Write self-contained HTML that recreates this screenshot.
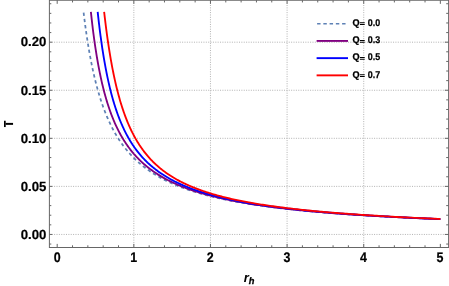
<!DOCTYPE html><html><head><meta charset="utf-8"><style>html,body{margin:0;padding:0;background:#fff}svg{display:block;will-change:transform}text{text-rendering:geometricPrecision;font-family:"Liberation Sans",sans-serif;font-weight:bold;fill:#000}</style></head><body>
<svg width="449" height="286" viewBox="0 0 449 286">
<rect width="449" height="286" fill="#fff"/>
<g stroke="#aaa" stroke-width="0.9" stroke-dasharray="1 1.37" fill="none"><line x1="133.83" y1="0.25" x2="133.83" y2="247.50"/><line x1="210.46" y1="0.25" x2="210.46" y2="247.50"/><line x1="287.09" y1="0.25" x2="287.09" y2="247.50"/><line x1="363.72" y1="0.25" x2="363.72" y2="247.50"/><line x1="49.40" y1="234.45" x2="448.60" y2="234.45"/><line x1="49.40" y1="186.38" x2="448.60" y2="186.38"/><line x1="49.40" y1="138.32" x2="448.60" y2="138.32"/><line x1="49.40" y1="90.25" x2="448.60" y2="90.25"/><line x1="49.40" y1="42.19" x2="448.60" y2="42.19"/></g>
<g fill="none" stroke-linejoin="round">
<path d="M83.53 11.85 L83.77 13.83 L84.01 15.79 L84.25 17.73 L84.49 19.66 L84.74 21.57 L84.98 23.46 L85.23 25.33 L85.48 27.19 L85.74 29.03 L85.99 30.86 L86.25 32.67 L86.51 34.46 L86.77 36.24 L87.04 38.00 L87.31 39.74 L87.58 41.47 L87.85 43.19 L88.12 44.89 L88.40 46.57 L88.68 48.24 L88.96 49.89 L89.25 51.53 L89.54 53.16 L89.82 54.77 L90.12 56.37 L90.41 57.95 L90.71 59.52 L91.01 61.07 L91.31 62.61 L91.62 64.14 L91.93 65.65 L92.24 67.15 L92.55 68.64 L92.87 70.11 L93.19 71.57 L93.51 73.02 L93.84 74.45 L94.17 75.88 L94.50 77.29 L94.83 78.68 L95.17 80.07 L95.51 81.44 L95.85 82.80 L96.20 84.14 L96.55 85.48 L96.90 86.80 L97.26 88.12 L97.62 89.42 L97.98 90.70 L98.35 91.98 L98.72 93.25 L99.09 94.50 L99.46 95.75 L99.84 96.98 L100.22 98.20 L100.61 99.41 L101.00 100.61 L101.39 101.80 L101.79 102.98 L102.19 104.15 L102.59 105.30 L103.00 106.45 L103.41 107.59 L103.82 108.72 L104.24 109.83 L104.66 110.94 L105.09 112.04 L105.52 113.13 L105.95 114.20 L106.39 115.27 L106.83 116.33 L107.27 117.38 L107.72 118.42 L108.18 119.45 L108.63 120.47 L109.09 121.49 L109.56 122.49 L110.03 123.49 L110.50 124.47 L110.98 125.45 L111.46 126.42 L111.95 127.38 L112.44 128.33 L112.93 129.27 L113.43 130.21 L113.94 131.13 L114.45 132.05 L114.96 132.96 L115.48 133.86 L116.00 134.76 L116.53 135.64 L117.06 136.52 L117.60 137.39 L118.14 138.25 L118.68 139.11 L119.23 139.95 L119.79 140.79 L120.35 141.63 L120.92 142.45 L121.49 143.27 L122.07 144.08 L122.65 144.88 L123.23 145.68 L123.83 146.47 L124.42 147.25 L125.03 148.02 L125.63 148.79 L126.25 149.55 L126.87 150.31 L127.49 151.05 L128.12 151.79 L128.76 152.53 L129.40 153.26 L130.05 153.98 L130.70 154.69 L131.36 155.40 L132.02 156.10 L132.69 156.80 L133.37 157.49 L134.05 158.17 L134.74 158.85 L135.44 159.52 L136.14 160.19 L136.85 160.85 L137.56 161.50 L138.28 162.15 L139.01 162.79 L139.74 163.43 L140.48 164.06 L141.23 164.69 L141.98 165.31 L142.74 165.92 L143.51 166.53 L144.28 167.13 L145.06 167.73 L145.85 168.32 L146.64 168.91 L147.45 169.49 L148.26 170.07 L149.07 170.64 L149.90 171.21 L150.73 171.77 L151.57 172.33 L152.41 172.88 L153.26 173.43 L154.13 173.97 L155.00 174.51 L155.87 175.04 L156.76 175.57 L157.65 176.09 L158.55 176.61 L159.46 177.12 L160.37 177.63 L161.30 178.14 L162.23 178.64 L163.17 179.13 L164.12 179.63 L165.08 180.11 L166.05 180.60 L167.03 181.07 L168.01 181.55 L169.00 182.02 L170.01 182.48 L171.02 182.95 L172.04 183.40 L173.07 183.86 L174.11 184.31 L175.16 184.75 L176.21 185.19 L177.28 185.63 L178.36 186.07 L179.44 186.50 L180.54 186.92 L181.64 187.34 L182.76 187.76 L183.89 188.18 L185.02 188.59 L186.17 189.00 L187.32 189.40 L188.49 189.80 L189.67 190.20 L190.85 190.59 L192.05 190.98 L193.26 191.37 L194.48 191.75 L195.71 192.13 L196.95 192.50 L198.21 192.88 L199.47 193.25 L200.75 193.61 L202.03 193.98 L203.33 194.34 L204.64 194.69 L205.96 195.04 L207.30 195.40 L208.64 195.74 L210.00 196.09 L211.37 196.43 L212.75 196.76 L214.15 197.10 L215.55 197.43 L216.97 197.76 L218.41 198.09 L219.85 198.41 L221.31 198.73 L222.78 199.05 L224.27 199.36 L225.76 199.67 L227.27 199.98 L228.80 200.29 L230.34 200.59 L231.89 200.89 L233.46 201.19 L235.04 201.49 L236.63 201.78 L238.24 202.07 L239.86 202.36 L241.50 202.64 L243.15 202.93 L244.82 203.21 L246.50 203.48 L248.20 203.76 L249.91 204.03 L251.64 204.30 L253.38 204.57 L255.14 204.83 L256.91 205.10 L258.70 205.36 L260.51 205.62 L262.33 205.87 L264.17 206.13 L266.03 206.38 L267.90 206.63 L269.79 206.88 L271.70 207.12 L273.62 207.36 L275.56 207.60 L277.52 207.84 L279.49 208.08 L281.48 208.31 L283.50 208.55 L285.52 208.78 L287.57 209.00 L289.64 209.23 L291.72 209.45 L293.82 209.68 L295.94 209.90 L298.08 210.11 L300.24 210.33 L302.42 210.55 L304.62 210.76 L306.84 210.97 L309.08 211.18 L311.34 211.38 L313.61 211.59 L315.91 211.79 L318.23 211.99 L320.57 212.19 L322.93 212.39 L325.32 212.59 L327.72 212.78 L330.14 212.97 L332.59 213.16 L335.06 213.35 L337.55 213.54 L340.07 213.73 L342.60 213.91 L345.16 214.09 L347.74 214.27 L350.35 214.45 L352.97 214.63 L355.63 214.81 L358.30 214.98 L361.00 215.15 L363.72 215.33 L366.47 215.50 L369.25 215.66 L372.04 215.83 L374.87 216.00 L377.71 216.16 L380.59 216.32 L383.49 216.48 L386.41 216.64 L389.36 216.80 L392.34 216.96 L395.34 217.11 L398.38 217.27 L401.43 217.42 L404.52 217.57 L407.63 217.72 L410.78 217.87 L413.95 218.02 L417.14 218.16 L420.37 218.31 L423.63 218.45 L426.91 218.59 L430.23 218.74 L433.57 218.87 L436.95 219.01 L440.35 219.15" stroke="#5E81B5" stroke-width="1.75" stroke-dasharray="3.3 2.95" stroke-dashoffset="-0.75"/>
<path d="M90.89 11.85 L91.16 14.42 L91.44 16.95 L91.72 19.45 L92.00 21.90 L92.28 24.32 L92.56 26.70 L92.85 29.05 L93.14 31.36 L93.43 33.64 L93.73 35.88 L94.03 38.09 L94.33 40.27 L94.63 42.42 L94.93 44.53 L95.24 46.62 L95.55 48.67 L95.86 50.69 L96.18 52.69 L96.49 54.66 L96.81 56.60 L97.14 58.51 L97.46 60.39 L97.79 62.25 L98.12 64.09 L98.45 65.89 L98.79 67.68 L99.13 69.43 L99.47 71.17 L99.81 72.88 L100.16 74.56 L100.51 76.23 L100.86 77.87 L101.22 79.49 L101.57 81.09 L101.93 82.67 L102.30 84.22 L102.67 85.76 L103.04 87.27 L103.41 88.77 L103.78 90.24 L104.16 91.70 L104.55 93.14 L104.93 94.56 L105.32 95.96 L105.71 97.34 L106.11 98.71 L106.50 100.06 L106.90 101.39 L107.31 102.71 L107.72 104.00 L108.13 105.29 L108.54 106.55 L108.96 107.81 L109.38 109.04 L109.81 110.26 L110.23 111.47 L110.67 112.66 L111.10 113.84 L111.54 115.00 L111.98 116.15 L112.43 117.28 L112.88 118.40 L113.33 119.51 L113.79 120.61 L114.25 121.69 L114.71 122.76 L115.18 123.82 L115.65 124.86 L116.13 125.89 L116.61 126.92 L117.09 127.92 L117.58 128.92 L118.07 129.91 L118.56 130.88 L119.06 131.85 L119.57 132.80 L120.07 133.74 L120.59 134.68 L121.10 135.60 L121.62 136.51 L122.15 137.41 L122.67 138.30 L123.21 139.18 L123.74 140.06 L124.29 140.92 L124.83 141.77 L125.38 142.61 L125.94 143.45 L126.50 144.27 L127.06 145.09 L127.63 145.90 L128.20 146.70 L128.78 147.49 L129.36 148.27 L129.95 149.05 L130.54 149.81 L131.14 150.57 L131.74 151.32 L132.35 152.06 L132.96 152.80 L133.57 153.53 L134.20 154.25 L134.82 154.96 L135.45 155.66 L136.09 156.36 L136.73 157.05 L137.38 157.74 L138.03 158.41 L138.69 159.08 L139.35 159.75 L140.02 160.40 L140.69 161.05 L141.37 161.69 L142.06 162.33 L142.75 162.96 L143.45 163.59 L144.15 164.20 L144.86 164.82 L145.57 165.42 L146.29 166.02 L147.01 166.62 L147.74 167.21 L148.48 167.79 L149.22 168.37 L149.97 168.94 L150.73 169.50 L151.49 170.06 L152.26 170.62 L153.03 171.17 L153.81 171.71 L154.59 172.25 L155.39 172.79 L156.19 173.31 L156.99 173.84 L157.80 174.36 L158.62 174.87 L159.45 175.38 L160.28 175.89 L161.12 176.39 L161.96 176.88 L162.82 177.37 L163.68 177.86 L164.54 178.34 L165.42 178.81 L166.30 179.29 L167.18 179.76 L168.08 180.22 L168.98 180.68 L169.89 181.13 L170.81 181.58 L171.73 182.03 L172.66 182.47 L173.60 182.91 L174.55 183.35 L175.51 183.78 L176.47 184.21 L177.44 184.63 L178.42 185.05 L179.40 185.46 L180.40 185.88 L181.40 186.28 L182.41 186.69 L183.43 187.09 L184.46 187.48 L185.49 187.88 L186.54 188.27 L187.59 188.65 L188.65 189.04 L189.72 189.42 L190.80 189.79 L191.89 190.17 L192.98 190.54 L194.09 190.90 L195.20 191.27 L196.32 191.63 L197.46 191.98 L198.60 192.34 L199.75 192.69 L200.91 193.03 L202.08 193.38 L203.26 193.72 L204.45 194.06 L205.64 194.39 L206.85 194.72 L208.07 195.05 L209.30 195.38 L210.53 195.70 L211.78 196.03 L213.04 196.34 L214.31 196.66 L215.59 196.97 L216.88 197.28 L218.17 197.59 L219.48 197.89 L220.81 198.20 L222.14 198.50 L223.48 198.79 L224.83 199.09 L226.20 199.38 L227.57 199.67 L228.96 199.95 L230.36 200.24 L231.76 200.52 L233.18 200.80 L234.62 201.08 L236.06 201.35 L237.52 201.62 L238.98 201.89 L240.46 202.16 L241.95 202.43 L243.46 202.69 L244.97 202.95 L246.50 203.21 L248.04 203.47 L249.59 203.72 L251.16 203.97 L252.74 204.22 L254.33 204.47 L255.93 204.72 L257.55 204.96 L259.18 205.20 L260.82 205.44 L262.48 205.68 L264.15 205.91 L265.84 206.15 L267.53 206.38 L269.25 206.61 L270.97 206.84 L272.71 207.06 L274.46 207.29 L276.23 207.51 L278.01 207.73 L279.81 207.95 L281.62 208.17 L283.45 208.38 L285.29 208.59 L287.15 208.80 L289.02 209.01 L290.90 209.22 L292.81 209.43 L294.72 209.63 L296.66 209.83 L298.60 210.03 L300.57 210.23 L302.55 210.43 L304.55 210.63 L306.56 210.82 L308.59 211.01 L310.63 211.21 L312.70 211.39 L314.77 211.58 L316.87 211.77 L318.98 211.95 L321.11 212.14 L323.26 212.32 L325.43 212.50 L327.61 212.68 L329.81 212.85 L332.03 213.03 L334.26 213.21 L336.52 213.38 L338.79 213.55 L341.08 213.72 L343.39 213.89 L345.72 214.06 L348.07 214.22 L350.44 214.39 L352.82 214.55 L355.23 214.71 L357.65 214.87 L360.10 215.03 L362.56 215.19 L365.05 215.34 L367.55 215.50 L370.08 215.65 L372.62 215.81 L375.19 215.96 L377.78 216.11 L380.39 216.26 L383.02 216.40 L385.67 216.55 L388.34 216.70 L391.04 216.84 L393.75 216.98 L396.49 217.13 L399.25 217.27 L402.04 217.41 L404.84 217.54 L407.67 217.68 L410.52 217.82 L413.40 217.95 L416.30 218.09 L419.22 218.22 L422.16 218.35 L425.13 218.48 L428.13 218.61 L431.15 218.74 L434.19 218.87 L437.26 218.99 L440.35 219.12" stroke="#800080" stroke-width="1.85"/>
<path d="M97.68 11.85 L97.98 14.66 L98.29 17.42 L98.60 20.14 L98.91 22.81 L99.22 25.44 L99.54 28.03 L99.86 30.57 L100.18 33.08 L100.50 35.54 L100.83 37.96 L101.16 40.34 L101.49 42.69 L101.82 45.00 L102.15 47.27 L102.49 49.50 L102.83 51.70 L103.18 53.87 L103.52 56.00 L103.87 58.10 L104.22 60.16 L104.57 62.20 L104.93 64.20 L105.29 66.17 L105.65 68.11 L106.02 70.02 L106.38 71.90 L106.75 73.76 L107.13 75.58 L107.50 77.38 L107.88 79.15 L108.26 80.90 L108.64 82.61 L109.03 84.31 L109.42 85.97 L109.81 87.62 L110.21 89.24 L110.61 90.83 L111.01 92.40 L111.41 93.95 L111.82 95.48 L112.23 96.98 L112.65 98.47 L113.06 99.93 L113.48 101.37 L113.91 102.79 L114.33 104.19 L114.76 105.57 L115.20 106.93 L115.63 108.27 L116.07 109.60 L116.51 110.90 L116.96 112.19 L117.41 113.46 L117.86 114.71 L118.32 115.95 L118.78 117.16 L119.24 118.37 L119.71 119.55 L120.18 120.72 L120.65 121.87 L121.13 123.01 L121.61 124.14 L122.09 125.24 L122.58 126.34 L123.07 127.42 L123.57 128.48 L124.07 129.53 L124.57 130.57 L125.08 131.60 L125.59 132.61 L126.10 133.61 L126.62 134.59 L127.14 135.56 L127.67 136.52 L128.20 137.47 L128.73 138.41 L129.27 139.33 L129.81 140.25 L130.36 141.15 L130.91 142.04 L131.46 142.92 L132.02 143.79 L132.59 144.65 L133.15 145.50 L133.72 146.33 L134.30 147.16 L134.88 147.98 L135.46 148.79 L136.05 149.59 L136.64 150.37 L137.24 151.15 L137.84 151.92 L138.45 152.69 L139.06 153.44 L139.68 154.18 L140.30 154.92 L140.92 155.64 L141.55 156.36 L142.19 157.07 L142.83 157.77 L143.47 158.47 L144.12 159.15 L144.77 159.83 L145.43 160.50 L146.09 161.16 L146.76 161.82 L147.44 162.47 L148.11 163.11 L148.80 163.74 L149.49 164.37 L150.18 164.99 L150.88 165.60 L151.58 166.21 L152.29 166.81 L153.01 167.40 L153.73 167.99 L154.46 168.57 L155.19 169.14 L155.92 169.71 L156.67 170.27 L157.41 170.83 L158.17 171.38 L158.93 171.93 L159.69 172.46 L160.46 173.00 L161.24 173.53 L162.02 174.05 L162.81 174.56 L163.61 175.08 L164.41 175.58 L165.21 176.08 L166.02 176.58 L166.84 177.07 L167.67 177.56 L168.50 178.04 L169.33 178.51 L170.18 178.99 L171.03 179.45 L171.88 179.92 L172.75 180.37 L173.61 180.83 L174.49 181.27 L175.37 181.72 L176.26 182.16 L177.16 182.59 L178.06 183.02 L178.97 183.45 L179.88 183.87 L180.81 184.29 L181.74 184.71 L182.67 185.12 L183.62 185.53 L184.57 185.93 L185.52 186.33 L186.49 186.72 L187.46 187.11 L188.44 187.50 L189.43 187.89 L190.42 188.27 L191.42 188.64 L192.43 189.02 L193.45 189.39 L194.48 189.75 L195.51 190.12 L196.55 190.48 L197.60 190.83 L198.65 191.19 L199.72 191.54 L200.79 191.88 L201.87 192.23 L202.96 192.57 L204.05 192.90 L205.16 193.24 L206.27 193.57 L207.39 193.90 L208.52 194.22 L209.66 194.54 L210.80 194.86 L211.96 195.18 L213.12 195.49 L214.29 195.80 L215.48 196.11 L216.67 196.42 L217.87 196.72 L219.07 197.02 L220.29 197.32 L221.52 197.61 L222.75 197.90 L224.00 198.19 L225.25 198.48 L226.52 198.77 L227.79 199.05 L229.07 199.33 L230.37 199.60 L231.67 199.88 L232.98 200.15 L234.30 200.42 L235.63 200.69 L236.98 200.95 L238.33 201.22 L239.69 201.48 L241.06 201.74 L242.44 201.99 L243.84 202.25 L245.24 202.50 L246.66 202.75 L248.08 203.00 L249.52 203.24 L250.96 203.49 L252.42 203.73 L253.89 203.97 L255.37 204.21 L256.86 204.44 L258.36 204.67 L259.87 204.91 L261.40 205.14 L262.93 205.36 L264.48 205.59 L266.04 205.81 L267.61 206.04 L269.19 206.26 L270.78 206.47 L272.39 206.69 L274.01 206.91 L275.64 207.12 L277.28 207.33 L278.94 207.54 L280.60 207.75 L282.28 207.95 L283.98 208.16 L285.68 208.36 L287.40 208.56 L289.13 208.76 L290.88 208.96 L292.63 209.16 L294.40 209.35 L296.19 209.54 L297.99 209.74 L299.80 209.93 L301.62 210.11 L303.46 210.30 L305.31 210.49 L307.18 210.67 L309.06 210.85 L310.95 211.03 L312.86 211.21 L314.78 211.39 L316.72 211.57 L318.67 211.74 L320.64 211.92 L322.62 212.09 L324.61 212.26 L326.63 212.43 L328.65 212.60 L330.69 212.76 L332.75 212.93 L334.82 213.09 L336.91 213.26 L339.01 213.42 L341.13 213.58 L343.27 213.74 L345.42 213.90 L347.59 214.05 L349.77 214.21 L351.97 214.36 L354.19 214.51 L356.42 214.67 L358.67 214.82 L360.94 214.97 L363.22 215.11 L365.52 215.26 L367.84 215.41 L370.18 215.55 L372.53 215.70 L374.90 215.84 L377.29 215.98 L379.70 216.12 L382.13 216.26 L384.57 216.40 L387.03 216.53 L389.51 216.67 L392.01 216.80 L394.53 216.94 L397.07 217.07 L399.62 217.20 L402.20 217.33 L404.79 217.46 L407.41 217.59 L410.04 217.72 L412.69 217.85 L415.37 217.97 L418.06 218.10 L420.77 218.22 L423.51 218.34 L426.26 218.46 L429.04 218.58 L431.83 218.70 L434.65 218.82 L437.49 218.94 L440.35 219.06" stroke="#0000FF" stroke-width="1.85"/>
<path d="M104.14 11.85 L104.47 14.75 L104.81 17.60 L105.14 20.41 L105.48 23.17 L105.82 25.88 L106.16 28.55 L106.50 31.18 L106.85 33.76 L107.20 36.30 L107.55 38.80 L107.90 41.25 L108.26 43.67 L108.62 46.05 L108.98 48.39 L109.34 50.70 L109.71 52.96 L110.08 55.19 L110.45 57.38 L110.82 59.54 L111.20 61.67 L111.58 63.76 L111.96 65.82 L112.34 67.84 L112.73 69.84 L113.12 71.80 L113.51 73.73 L113.91 75.64 L114.31 77.51 L114.71 79.35 L115.11 81.17 L115.52 82.96 L115.93 84.72 L116.34 86.45 L116.76 88.16 L117.17 89.84 L117.59 91.49 L118.02 93.12 L118.45 94.73 L118.88 96.31 L119.31 97.87 L119.75 99.40 L120.18 100.91 L120.63 102.40 L121.07 103.87 L121.52 105.32 L121.97 106.74 L122.43 108.15 L122.89 109.53 L123.35 110.89 L123.81 112.24 L124.28 113.56 L124.75 114.87 L125.22 116.15 L125.70 117.42 L126.18 118.67 L126.67 119.91 L127.16 121.12 L127.65 122.32 L128.14 123.50 L128.64 124.66 L129.14 125.81 L129.65 126.95 L130.16 128.06 L130.67 129.16 L131.18 130.25 L131.70 131.32 L132.23 132.38 L132.75 133.42 L133.28 134.45 L133.82 135.46 L134.36 136.46 L134.90 137.45 L135.44 138.42 L135.99 139.38 L136.55 140.33 L137.10 141.27 L137.67 142.19 L138.23 143.10 L138.80 144.00 L139.37 144.89 L139.95 145.77 L140.53 146.63 L141.12 147.48 L141.71 148.33 L142.30 149.16 L142.90 149.98 L143.50 150.79 L144.10 151.59 L144.71 152.38 L145.33 153.16 L145.95 153.93 L146.57 154.69 L147.20 155.45 L147.83 156.19 L148.47 156.92 L149.11 157.65 L149.75 158.36 L150.40 159.07 L151.06 159.77 L151.72 160.46 L152.38 161.14 L153.05 161.81 L153.72 162.47 L154.40 163.13 L155.08 163.78 L155.77 164.42 L156.46 165.06 L157.16 165.68 L157.86 166.30 L158.57 166.91 L159.28 167.52 L160.00 168.12 L160.72 168.71 L161.45 169.29 L162.18 169.87 L162.92 170.44 L163.66 171.01 L164.41 171.56 L165.16 172.12 L165.92 172.66 L166.68 173.20 L167.45 173.73 L168.22 174.26 L169.00 174.78 L169.79 175.30 L170.58 175.81 L171.38 176.31 L172.18 176.81 L172.98 177.31 L173.80 177.80 L174.62 178.28 L175.44 178.76 L176.27 179.23 L177.11 179.70 L177.95 180.16 L178.80 180.62 L179.65 181.07 L180.51 181.52 L181.38 181.96 L182.25 182.40 L183.13 182.84 L184.01 183.27 L184.90 183.69 L185.80 184.11 L186.70 184.53 L187.61 184.94 L188.53 185.35 L189.45 185.75 L190.38 186.15 L191.31 186.55 L192.26 186.94 L193.20 187.33 L194.16 187.71 L195.12 188.09 L196.09 188.47 L197.07 188.84 L198.05 189.21 L199.04 189.58 L200.03 189.94 L201.04 190.30 L202.05 190.65 L203.06 191.00 L204.09 191.35 L205.12 191.70 L206.16 192.04 L207.20 192.38 L208.26 192.71 L209.32 193.04 L210.39 193.37 L211.46 193.70 L212.55 194.02 L213.64 194.34 L214.74 194.65 L215.84 194.97 L216.96 195.28 L218.08 195.58 L219.21 195.89 L220.35 196.19 L221.49 196.49 L222.65 196.79 L223.81 197.08 L224.98 197.37 L226.16 197.66 L227.34 197.94 L228.54 198.23 L229.74 198.51 L230.95 198.78 L232.17 199.06 L233.40 199.33 L234.64 199.60 L235.88 199.87 L237.14 200.14 L238.40 200.40 L239.68 200.66 L240.96 200.92 L242.25 201.18 L243.55 201.43 L244.86 201.68 L246.17 201.93 L247.50 202.18 L248.84 202.42 L250.18 202.67 L251.54 202.91 L252.90 203.15 L254.28 203.38 L255.66 203.62 L257.06 203.85 L258.46 204.08 L259.87 204.31 L261.30 204.54 L262.73 204.76 L264.17 204.99 L265.63 205.21 L267.09 205.43 L268.56 205.64 L270.05 205.86 L271.54 206.07 L273.05 206.29 L274.56 206.50 L276.09 206.71 L277.63 206.91 L279.18 207.12 L280.73 207.32 L282.30 207.52 L283.88 207.72 L285.48 207.92 L287.08 208.12 L288.69 208.31 L290.32 208.51 L291.96 208.70 L293.61 208.89 L295.27 209.08 L296.94 209.26 L298.62 209.45 L300.32 209.63 L302.02 209.82 L303.74 210.00 L305.48 210.18 L307.22 210.36 L308.97 210.53 L310.74 210.71 L312.52 210.88 L314.32 211.06 L316.12 211.23 L317.94 211.40 L319.77 211.57 L321.62 211.73 L323.47 211.90 L325.34 212.06 L327.23 212.23 L329.12 212.39 L331.03 212.55 L332.95 212.71 L334.89 212.87 L336.84 213.02 L338.80 213.18 L340.78 213.34 L342.77 213.49 L344.78 213.64 L346.80 213.79 L348.83 213.94 L350.88 214.09 L352.94 214.24 L355.02 214.38 L357.11 214.53 L359.22 214.67 L361.34 214.82 L363.48 214.96 L365.63 215.10 L367.79 215.24 L369.97 215.38 L372.17 215.52 L374.38 215.65 L376.61 215.79 L378.85 215.92 L381.11 216.05 L383.39 216.19 L385.68 216.32 L387.98 216.45 L390.31 216.58 L392.65 216.71 L395.00 216.83 L397.37 216.96 L399.76 217.09 L402.17 217.21 L404.59 217.33 L407.03 217.46 L409.49 217.58 L411.96 217.70 L414.45 217.82 L416.96 217.94 L419.49 218.06 L422.03 218.17 L424.59 218.29 L427.18 218.41 L429.77 218.52 L432.39 218.63 L435.02 218.75 L437.68 218.86 L440.35 218.97" stroke="#FF0000" stroke-width="1.85"/>
</g>
<g stroke="#666" stroke-width="1" fill="none"><line x1="57.20" y1="247.50" x2="57.20" y2="243.90"/><line x1="57.20" y1="0.25" x2="57.20" y2="3.85"/><line x1="72.53" y1="247.50" x2="72.53" y2="245.30"/><line x1="72.53" y1="0.25" x2="72.53" y2="2.45"/><line x1="87.85" y1="247.50" x2="87.85" y2="245.30"/><line x1="87.85" y1="0.25" x2="87.85" y2="2.45"/><line x1="103.18" y1="247.50" x2="103.18" y2="245.30"/><line x1="103.18" y1="0.25" x2="103.18" y2="2.45"/><line x1="118.50" y1="247.50" x2="118.50" y2="245.30"/><line x1="118.50" y1="0.25" x2="118.50" y2="2.45"/><line x1="133.83" y1="247.50" x2="133.83" y2="243.90"/><line x1="133.83" y1="0.25" x2="133.83" y2="3.85"/><line x1="149.16" y1="247.50" x2="149.16" y2="245.30"/><line x1="149.16" y1="0.25" x2="149.16" y2="2.45"/><line x1="164.48" y1="247.50" x2="164.48" y2="245.30"/><line x1="164.48" y1="0.25" x2="164.48" y2="2.45"/><line x1="179.81" y1="247.50" x2="179.81" y2="245.30"/><line x1="179.81" y1="0.25" x2="179.81" y2="2.45"/><line x1="195.13" y1="247.50" x2="195.13" y2="245.30"/><line x1="195.13" y1="0.25" x2="195.13" y2="2.45"/><line x1="210.46" y1="247.50" x2="210.46" y2="243.90"/><line x1="210.46" y1="0.25" x2="210.46" y2="3.85"/><line x1="225.79" y1="247.50" x2="225.79" y2="245.30"/><line x1="225.79" y1="0.25" x2="225.79" y2="2.45"/><line x1="241.11" y1="247.50" x2="241.11" y2="245.30"/><line x1="241.11" y1="0.25" x2="241.11" y2="2.45"/><line x1="256.44" y1="247.50" x2="256.44" y2="245.30"/><line x1="256.44" y1="0.25" x2="256.44" y2="2.45"/><line x1="271.76" y1="247.50" x2="271.76" y2="245.30"/><line x1="271.76" y1="0.25" x2="271.76" y2="2.45"/><line x1="287.09" y1="247.50" x2="287.09" y2="243.90"/><line x1="287.09" y1="0.25" x2="287.09" y2="3.85"/><line x1="302.42" y1="247.50" x2="302.42" y2="245.30"/><line x1="302.42" y1="0.25" x2="302.42" y2="2.45"/><line x1="317.74" y1="247.50" x2="317.74" y2="245.30"/><line x1="317.74" y1="0.25" x2="317.74" y2="2.45"/><line x1="333.07" y1="247.50" x2="333.07" y2="245.30"/><line x1="333.07" y1="0.25" x2="333.07" y2="2.45"/><line x1="348.39" y1="247.50" x2="348.39" y2="245.30"/><line x1="348.39" y1="0.25" x2="348.39" y2="2.45"/><line x1="363.72" y1="247.50" x2="363.72" y2="243.90"/><line x1="363.72" y1="0.25" x2="363.72" y2="3.85"/><line x1="379.05" y1="247.50" x2="379.05" y2="245.30"/><line x1="379.05" y1="0.25" x2="379.05" y2="2.45"/><line x1="394.37" y1="247.50" x2="394.37" y2="245.30"/><line x1="394.37" y1="0.25" x2="394.37" y2="2.45"/><line x1="409.70" y1="247.50" x2="409.70" y2="245.30"/><line x1="409.70" y1="0.25" x2="409.70" y2="2.45"/><line x1="425.02" y1="247.50" x2="425.02" y2="245.30"/><line x1="425.02" y1="0.25" x2="425.02" y2="2.45"/><line x1="440.35" y1="247.50" x2="440.35" y2="243.90"/><line x1="440.35" y1="0.25" x2="440.35" y2="3.85"/><line x1="49.40" y1="244.06" x2="51.30" y2="244.06"/><line x1="448.60" y1="244.06" x2="446.20" y2="244.06"/><line x1="49.40" y1="234.45" x2="52.30" y2="234.45"/><line x1="448.60" y1="234.45" x2="444.80" y2="234.45"/><line x1="49.40" y1="224.84" x2="51.30" y2="224.84"/><line x1="448.60" y1="224.84" x2="446.20" y2="224.84"/><line x1="49.40" y1="215.22" x2="51.30" y2="215.22"/><line x1="448.60" y1="215.22" x2="446.20" y2="215.22"/><line x1="49.40" y1="205.61" x2="51.30" y2="205.61"/><line x1="448.60" y1="205.61" x2="446.20" y2="205.61"/><line x1="49.40" y1="196.00" x2="51.30" y2="196.00"/><line x1="448.60" y1="196.00" x2="446.20" y2="196.00"/><line x1="49.40" y1="186.38" x2="52.30" y2="186.38"/><line x1="448.60" y1="186.38" x2="444.80" y2="186.38"/><line x1="49.40" y1="176.77" x2="51.30" y2="176.77"/><line x1="448.60" y1="176.77" x2="446.20" y2="176.77"/><line x1="49.40" y1="167.16" x2="51.30" y2="167.16"/><line x1="448.60" y1="167.16" x2="446.20" y2="167.16"/><line x1="49.40" y1="157.55" x2="51.30" y2="157.55"/><line x1="448.60" y1="157.55" x2="446.20" y2="157.55"/><line x1="49.40" y1="147.93" x2="51.30" y2="147.93"/><line x1="448.60" y1="147.93" x2="446.20" y2="147.93"/><line x1="49.40" y1="138.32" x2="52.30" y2="138.32"/><line x1="448.60" y1="138.32" x2="444.80" y2="138.32"/><line x1="49.40" y1="128.71" x2="51.30" y2="128.71"/><line x1="448.60" y1="128.71" x2="446.20" y2="128.71"/><line x1="49.40" y1="119.09" x2="51.30" y2="119.09"/><line x1="448.60" y1="119.09" x2="446.20" y2="119.09"/><line x1="49.40" y1="109.48" x2="51.30" y2="109.48"/><line x1="448.60" y1="109.48" x2="446.20" y2="109.48"/><line x1="49.40" y1="99.87" x2="51.30" y2="99.87"/><line x1="448.60" y1="99.87" x2="446.20" y2="99.87"/><line x1="49.40" y1="90.25" x2="52.30" y2="90.25"/><line x1="448.60" y1="90.25" x2="444.80" y2="90.25"/><line x1="49.40" y1="80.64" x2="51.30" y2="80.64"/><line x1="448.60" y1="80.64" x2="446.20" y2="80.64"/><line x1="49.40" y1="71.03" x2="51.30" y2="71.03"/><line x1="448.60" y1="71.03" x2="446.20" y2="71.03"/><line x1="49.40" y1="61.42" x2="51.30" y2="61.42"/><line x1="448.60" y1="61.42" x2="446.20" y2="61.42"/><line x1="49.40" y1="51.80" x2="51.30" y2="51.80"/><line x1="448.60" y1="51.80" x2="446.20" y2="51.80"/><line x1="49.40" y1="42.19" x2="52.30" y2="42.19"/><line x1="448.60" y1="42.19" x2="444.80" y2="42.19"/><line x1="49.40" y1="32.58" x2="51.30" y2="32.58"/><line x1="448.60" y1="32.58" x2="446.20" y2="32.58"/><line x1="49.40" y1="22.96" x2="51.30" y2="22.96"/><line x1="448.60" y1="22.96" x2="446.20" y2="22.96"/><line x1="49.40" y1="13.35" x2="51.30" y2="13.35"/><line x1="448.60" y1="13.35" x2="446.20" y2="13.35"/><line x1="49.40" y1="3.74" x2="51.30" y2="3.74"/><line x1="448.60" y1="3.74" x2="446.20" y2="3.74"/><rect x="49.40" y="0.25" width="399.20" height="247.25"/></g>
<text transform="translate(57.20 261.55) scale(0.95 1.06)" font-size="13.1" text-anchor="middle" stroke="#000" stroke-width="0.2">0</text>
<text transform="translate(133.75 261.55) scale(0.95 1.06)" font-size="13.1" text-anchor="middle" stroke="#000" stroke-width="0.2">1</text>
<text transform="translate(210.30 261.55) scale(0.95 1.06)" font-size="13.1" text-anchor="middle" stroke="#000" stroke-width="0.2">2</text>
<text transform="translate(286.85 261.55) scale(0.95 1.06)" font-size="13.1" text-anchor="middle" stroke="#000" stroke-width="0.2">3</text>
<text transform="translate(363.40 261.55) scale(0.95 1.06)" font-size="13.1" text-anchor="middle" stroke="#000" stroke-width="0.2">4</text>
<text transform="translate(439.95 261.55) scale(0.95 1.06)" font-size="13.1" text-anchor="middle" stroke="#000" stroke-width="0.2">5</text>
<text x="46.4" y="238.95" font-size="13.2" text-anchor="end" stroke="#000" stroke-width="0.2">0.00</text>
<text x="46.4" y="190.80" font-size="13.2" text-anchor="end" stroke="#000" stroke-width="0.2">0.05</text>
<text x="46.4" y="143.15" font-size="13.2" text-anchor="end" stroke="#000" stroke-width="0.2">0.10</text>
<text x="46.4" y="94.90" font-size="13.2" text-anchor="end" stroke="#000" stroke-width="0.2">0.15</text>
<text x="46.4" y="46.35" font-size="13.2" text-anchor="end" stroke="#000" stroke-width="0.2">0.20</text>
<g fill="#000"><title>T</title><rect x="4.0" y="120.75" width="1.7" height="6.3"/><rect x="5.6" y="122.9" width="7.45" height="1.95"/></g>
<text x="243.7" y="281.75" font-size="13.1" font-style="italic">r<tspan font-size="9.3" dy="2.2" stroke="#000" stroke-width="0.3">h</tspan></text>
<line x1="317.1" y1="23.70" x2="347.6" y2="23.70" stroke="#5E81B5" stroke-width="1.35" stroke-dasharray="3.45 2.8"/>
<text transform="translate(352.45 26.00) scale(0.93 1)" font-size="9.8" stroke="#000" stroke-width="0.3">Q</text>
<path d="M359.9 22.65h4.8M359.9 24.45h4.8" stroke="#000" stroke-width="1.05" fill="none"/>
<text transform="translate(367.8 26.00) scale(0.91 1)" font-size="9.8" stroke="#000" stroke-width="0.25">0.0</text>
<line x1="316.6" y1="40.92" x2="348" y2="40.92" stroke="#800080" stroke-width="1.9"/>
<text transform="translate(352.45 43.30) scale(0.93 1)" font-size="9.8" stroke="#000" stroke-width="0.3">Q</text>
<path d="M359.9 40.55h4.8M359.9 42.30h4.8" stroke="#000" stroke-width="1.05" fill="none"/>
<text transform="translate(367.8 43.30) scale(0.91 1)" font-size="9.8" stroke="#000" stroke-width="0.25">0.3</text>
<line x1="316.6" y1="58.14" x2="348" y2="58.14" stroke="#0000FF" stroke-width="1.9"/>
<text transform="translate(352.45 60.25) scale(0.93 1)" font-size="9.8" stroke="#000" stroke-width="0.3">Q</text>
<path d="M359.9 57.40h4.8M359.9 59.30h4.8" stroke="#000" stroke-width="1.05" fill="none"/>
<text transform="translate(367.8 60.25) scale(0.91 1)" font-size="9.8" stroke="#000" stroke-width="0.25">0.5</text>
<line x1="316.6" y1="75.36" x2="348" y2="75.36" stroke="#FF0000" stroke-width="1.9"/>
<text transform="translate(352.45 78.00) scale(0.93 1)" font-size="9.8" stroke="#000" stroke-width="0.3">Q</text>
<path d="M359.9 74.75h4.8M359.9 76.45h4.8" stroke="#000" stroke-width="1.05" fill="none"/>
<text transform="translate(367.8 78.00) scale(0.91 1)" font-size="9.8" stroke="#000" stroke-width="0.25">0.7</text>
</svg></body></html>
